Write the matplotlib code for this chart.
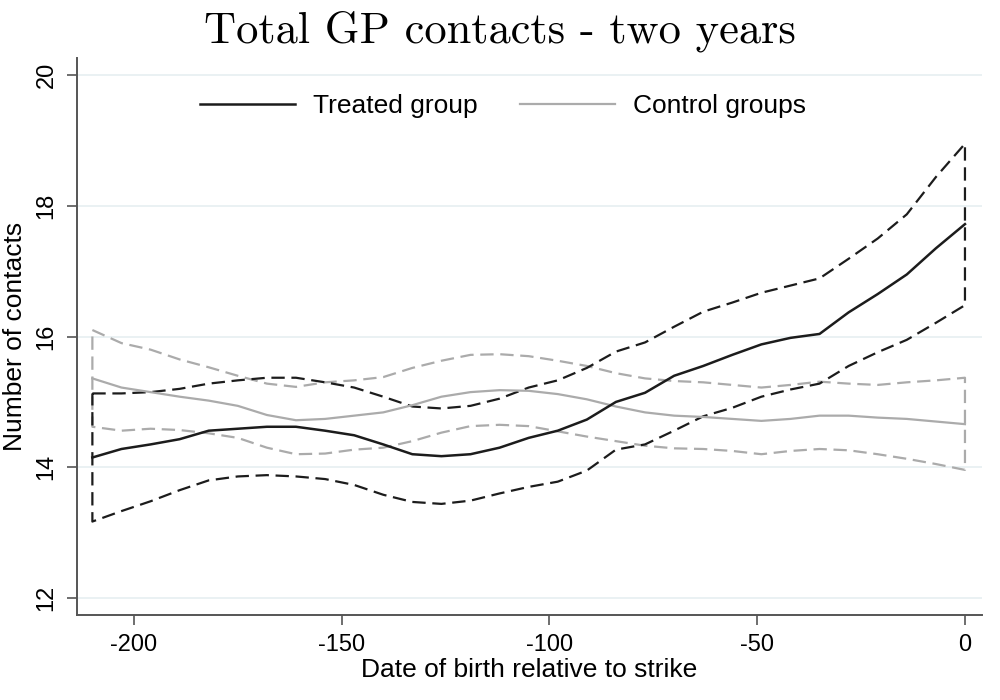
import matplotlib
matplotlib.use("Agg")
import matplotlib.pyplot as plt
import numpy as np

# ── Dados ────────────────────────────────────────────────────────────────────

dias = [-210, -203, -196, -189, -182, -175, -168, -161, -154, -147, -140,
        -133, -126, -119, -112, -105, -98, -91, -84, -77, -70, -63, -56,
        -49, -42, -35, -28, -21, -14, -7, 0]

tratado = [14.15, 14.28, 14.35, 14.43, 14.56, 14.59, 14.62, 14.62, 14.56,
           14.49, 14.35, 14.20, 14.17, 14.20, 14.30, 14.45, 14.56, 14.73,
           15.00, 15.14, 15.40, 15.55, 15.72, 15.88, 15.98, 16.04, 16.37,
           16.65, 16.95, 17.35, 17.72]
tratado_sup = [15.13, 15.13, 15.15, 15.20, 15.28, 15.33, 15.37, 15.37, 15.30,
               15.22, 15.08, 14.93, 14.90, 14.94, 15.05, 15.22, 15.33, 15.52,
               15.77, 15.91, 16.15, 16.38, 16.52, 16.67, 16.78, 16.89, 17.19,
               17.50, 17.87, 18.44, 18.95]
tratado_inf = [13.17, 13.33, 13.48, 13.65, 13.80, 13.86, 13.88, 13.86, 13.82,
               13.73, 13.58, 13.47, 13.44, 13.49, 13.60, 13.70, 13.78, 13.95,
               14.27, 14.35, 14.56, 14.78, 14.91, 15.08, 15.19, 15.28, 15.55,
               15.76, 15.95, 16.21, 16.48]

controle = [15.36, 15.22, 15.15, 15.08, 15.02, 14.94, 14.80, 14.72, 14.74,
            14.79, 14.84, 14.95, 15.08, 15.15, 15.18, 15.17, 15.12, 15.04,
            14.93, 14.84, 14.79, 14.77, 14.74, 14.71, 14.74, 14.79, 14.79,
            14.76, 14.74, 14.70, 14.66]
controle_sup = [16.10, 15.90, 15.80, 15.65, 15.53, 15.40, 15.28, 15.23, 15.30,
                15.33, 15.38, 15.52, 15.63, 15.72, 15.73, 15.70, 15.63, 15.55,
                15.44, 15.36, 15.32, 15.30, 15.26, 15.22, 15.26, 15.31, 15.28,
                15.26, 15.30, 15.33, 15.37]
controle_inf = [14.62, 14.56, 14.59, 14.57, 14.52, 14.45, 14.30, 14.20, 14.21,
                14.27, 14.30, 14.40, 14.53, 14.63, 14.65, 14.63, 14.55, 14.47,
                14.40, 14.33, 14.29, 14.28, 14.25, 14.20, 14.25, 14.28, 14.26,
                14.20, 14.13, 14.05, 13.96]

x_ticks = [-200, -150, -100, -50, 0]
y_ticks = [12, 14, 16, 18, 20]

PRETO = "#1c1c1c"
CINZA = "#ababab"
GRADE = "#e6eff1"

plt.rcParams.update({
    "font.family": ["Liberation Sans", "DejaVu Sans"],
    "figure.facecolor": "white",
    "axes.facecolor": "white",
})


def contorno_ic(ax, x, sup, inf, cor):
    # banda de IC desenhada só como contorno tracejado (fechado nas pontas)
    xs = np.concatenate([x, x[::-1], x[:1]])
    ys = np.concatenate([sup, inf[::-1], sup[:1]])
    ax.plot(xs, ys, color=cor, lw=1.6, ls=(0, (6, 3)), zorder=2)


fig = plt.figure(figsize=(10, 7), dpi=100)
ax = fig.add_axes([0.077, 0.1214, 0.905, 0.7956])

x = np.array(dias)
contorno_ic(ax, x, np.array(controle_sup), np.array(controle_inf), CINZA)
contorno_ic(ax, x, np.array(tratado_sup), np.array(tratado_inf), PRETO)
ax.plot(x, controle, color=CINZA, lw=1.6, label="Control groups", zorder=3)
ax.plot(x, tratado, color=PRETO, lw=1.8, label="Treated group", zorder=4)

ax.set_xlim(-213.7, 4.1)
ax.set_ylim(11.74, 20.26)
ax.set_xticks(x_ticks)
ax.set_xticklabels([str(t) for t in x_ticks])
ax.set_yticks(y_ticks)
ax.set_yticklabels([str(t) for t in y_ticks], rotation=90, va="center")
ax.tick_params(axis="both", labelsize=17, length=7, width=1.2,
               color="#555555", pad=7)
ax.grid(axis="y", color=GRADE, lw=1.2, zorder=0)
ax.set_axisbelow(True)

for lado in ("top", "right"):
    ax.spines[lado].set_visible(False)
for lado in ("left", "bottom"):
    ax.spines[lado].set_color("#555555")
    ax.spines[lado].set_linewidth(1.4)

ax.set_xlabel("Date of birth relative to strike", fontsize=19, labelpad=1)
ax.set_ylabel("Number of contacts", fontsize=19, labelpad=6)

handles, labels = ax.get_legend_handles_labels()
fig.legend(handles[::-1], labels[::-1], loc="center",
           bbox_to_anchor=(0.503, 1 - 106 / 700), ncol=2, frameon=False,
           fontsize=19, handlelength=3.6, handletextpad=0.68,
           columnspacing=1.6)

fig.suptitle("Total GP contacts - two years", fontsize=32,
             fontfamily="cmr10", y=0.985, va="top")

fig.savefig("out.png", dpi=100, facecolor="white")
